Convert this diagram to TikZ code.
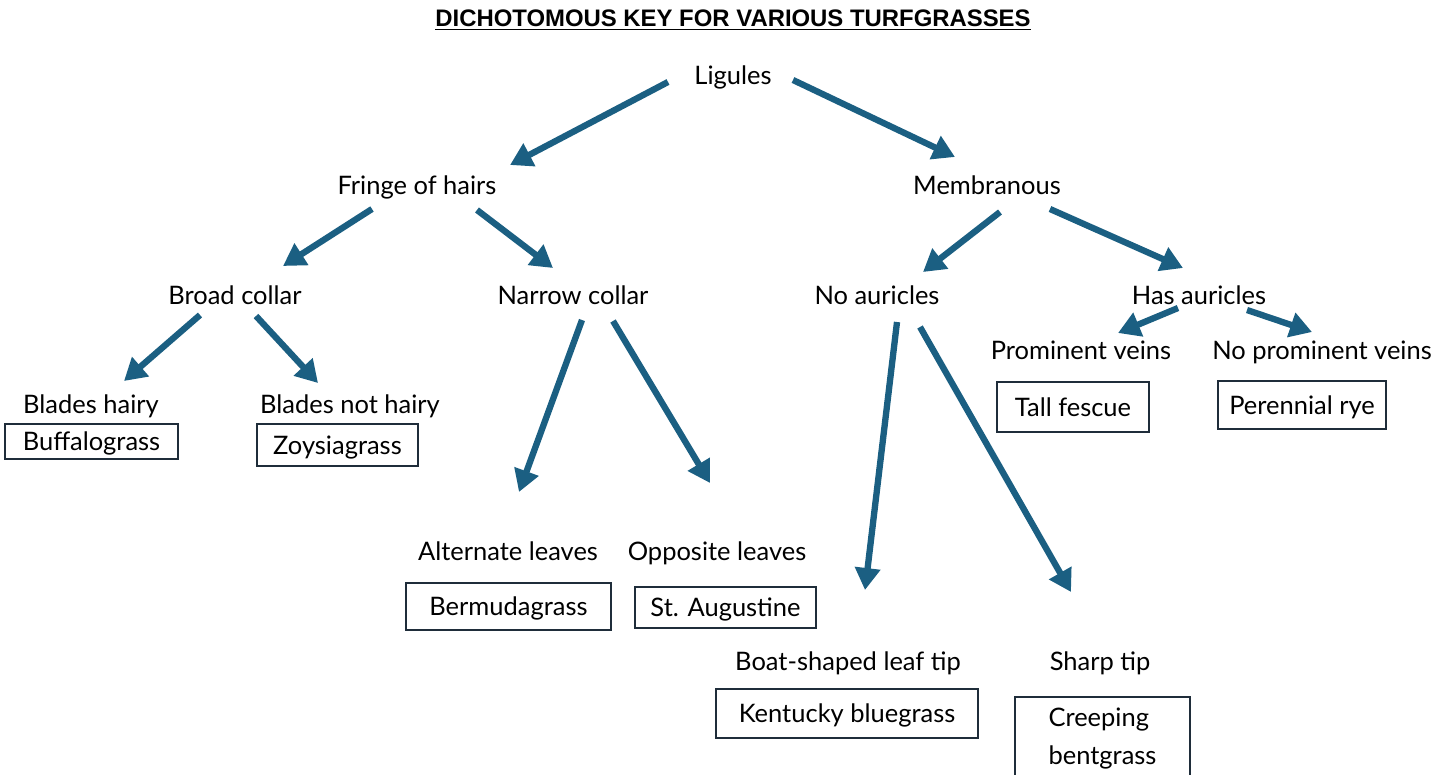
\documentclass[tikz,border=0pt]{standalone}
\usepackage{fontspec}
\setmainfont{Lato}
\newfontfamily\titlefont{Liberation Sans}
\usetikzlibrary{arrows.meta,calc}
\definecolor{keyblue}{HTML}{1B5F82}
\definecolor{boxline}{HTML}{1F2D3A}

\begin{document}
\begin{tikzpicture}[
    x=0.02cm, y=-0.02cm,
    >={Triangle[length=12.5pt,width=14pt]},
    lbl/.style={font=\fontsize{14.5}{17}\selectfont,inner sep=0pt,anchor=base},
    grass/.style={draw=boxline,line width=1.1pt,font=\fontsize{14.5}{17}\selectfont,inner sep=0pt,text depth=0pt,align=center},
    arr/.style={->,draw=keyblue,line width=3.6pt}
]
\useasboundingbox (0,0) rectangle (1449,774);

% Title
\node[font=\titlefont\bfseries\fontsize{13.6}{16}\selectfont] (title) at (733,20)
  {\underline{DICHOTOMOUS KEY FOR VARIOUS TURFGRASSES}};

% Key couplets
\node[lbl] (ligules) at (733,84) {Ligules};
\node[lbl] (fringe) at (417,194) {Fringe of hairs};
\node[lbl] (membr) at (987,194) {Membranous};
\node[lbl] (broad) at (235,304) {Broad collar};
\node[lbl] (narrow) at (573,304) {Narrow collar};
\node[lbl] (noaur) at (877,304) {No auricles};
\node[lbl] (hasaur) at (1199,304) {Has auricles};
\node[lbl] (hairy) at (91,413) {Blades hairy};
\node[lbl] (nothairy) at (350,413) {Blades not hairy};
\node[lbl] (altern) at (508,560) {Alternate leaves};
\node[lbl] (oppos) at (717,560) {Opposite leaves};
\node[lbl] (boat) at (848,670) {Boat-shaped leaf tip};
\node[lbl] (sharp) at (1100,670) {Sharp tip};
\node[lbl] (promin) at (1081,359) {Prominent veins};
\node[lbl] (noprom) at (1322,359) {No prominent veins};

% Turfgrasses
\node[grass,minimum width=3.46cm,minimum height=0.70cm] (buffalo) at (91.5,441.5) {Buffalograss};
\node[grass,minimum width=3.22cm,minimum height=0.84cm] (zoysia) at (337.5,445) {Zoysiagrass};
\node[grass,minimum width=4.10cm,minimum height=0.94cm] (bermuda) at (508.5,606.5) {Bermudagrass};
\node[grass,minimum width=3.62cm,minimum height=0.82cm] (staug) at (725.5,607.5) {St. Augustine};
\node[grass,minimum width=5.24cm,minimum height=0.98cm] (kentucky) at (847,713.5) {Kentucky bluegrass};
\node[grass,align=left,font=\fontsize{14.5}{21.6}\selectfont,text depth=10pt,minimum width=3.50cm,minimum height=1.92cm] (creeping) at (1102.5,745) {Creeping\\bentgrass};
\node[grass,minimum width=3.04cm,minimum height=1.00cm] (fescue) at (1073,407) {Tall fescue};
\node[grass,minimum width=3.36cm,minimum height=0.96cm] (rye) at (1302,405) {Perennial rye};

% Arrows
\draw[arr] ($(ligules.base)+(-65,-2)$) -- ($(fringe.base)+(93,-29)$);
\draw[arr] ($(ligules.base)+(60,-4)$) -- ($(membr.base)+(-32,-37)$);
\draw[arr] ($(fringe.base)+(-45,15)$) -- ($(broad.base)+(48,-38)$);
\draw[arr] ($(fringe.base)+(60,16)$) -- ($(narrow.base)+(-20,-36)$);
\draw[arr] ($(membr.base)+(13,18)$) -- ($(noaur.base)+(46,-32)$);
\draw[arr] ($(membr.base)+(63,15)$) -- ($(hasaur.base)+(-16,-36)$);
\draw[arr] ($(broad.base)+(-35,11)$) -- ($(hairy.base)+(33,-32)$);
\draw[arr] ($(broad.base)+(21,12)$) -- ($(nothairy.base)+(-32,-30)$);
\draw[arr] ($(narrow.base)+(9,16)$) -- ($(altern.base)+(11,-68)$);
\draw[arr] ($(narrow.base)+(40,17)$) -- ($(oppos.base)+(-7,-77)$);
\draw[arr] ($(noaur.base)+(20,18)$) -- ($(boat.base)+(17,-80)$);
\draw[arr] ($(noaur.base)+(43,23)$) -- ($(sharp.base)+(-29,-78)$);
\draw[arr] ($(hasaur.base)+(-21,4)$) -- ($(promin.base)+(37,-26)$);
\draw[arr] ($(hasaur.base)+(48,6)$) -- ($(noprom.base)+(-10,-27)$);

\end{tikzpicture}
\end{document}
